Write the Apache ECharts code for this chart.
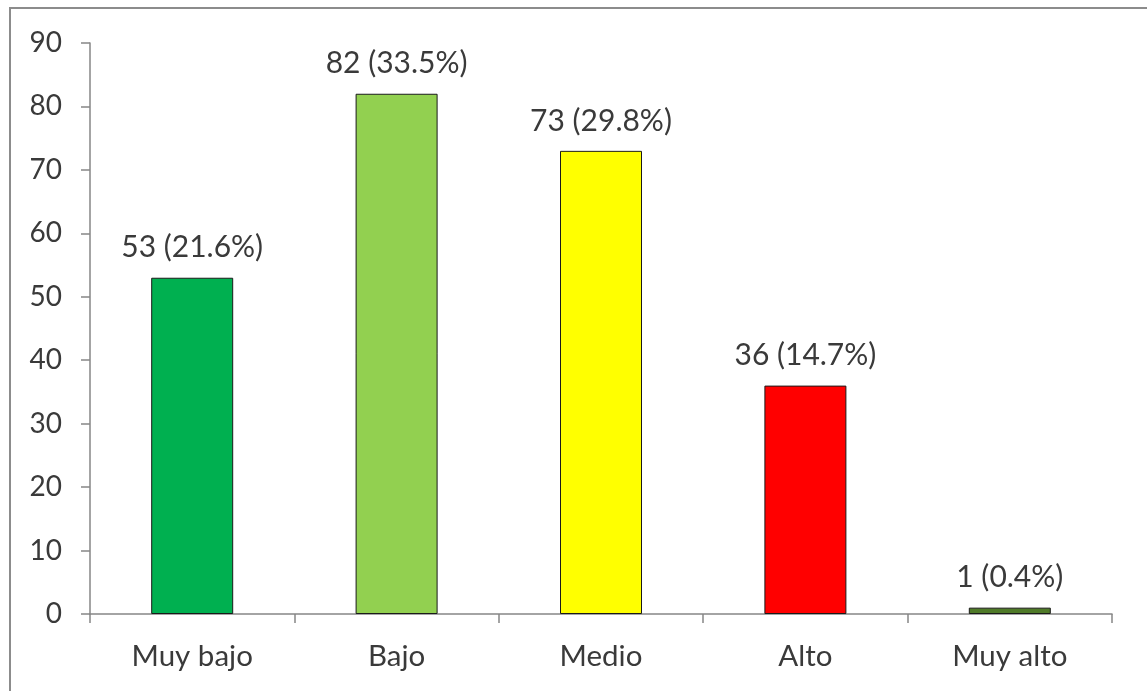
<!DOCTYPE html>
<html><head><meta charset="utf-8">
<script src="https://cdn.jsdelivr.net/npm/echarts@6/dist/echarts.min.js"></script>
<style>
html,body{margin:0;padding:0;background:#fff;}
#frame{position:absolute;left:9px;top:7px;width:1160px;height:700px;border-top:2px solid #8c8c8c;border-left:2px solid #8c8c8c;box-sizing:border-box;}
#c{position:absolute;left:0;top:0;width:1147px;height:691px;}
</style></head>
<body>
<div id="frame"></div>
<div id="c"></div>
<script>
const categories = ['Muy bajo','Bajo','Medio','Alto','Muy alto'];
const values = [53, 82, 73, 36, 1];
const percents = ['21.6','33.5','29.8','14.7','0.4'];
const colors = ['#00B050','#92D050','#FFFF00','#FF0000','#4F7A28'];
const yTicks = {min:0, max:90, interval:10};

const chart = echarts.init(document.getElementById('c'));
const font = 'Lato, "Open Sans", sans-serif';
chart.setOption({
  animation:false,
  grid:{left:90, right:35, top:43, bottom:77},
  xAxis:{
    type:'category', data:categories,
    axisLine:{lineStyle:{color:'#868686', width:1.5}},
    axisTick:{show:true, alignWithLabel:false, length:9, lineStyle:{color:'#868686', width:1.5}},
    axisLabel:{color:'#3a3a3a', fontSize:29.5, fontFamily:font, margin:27}
  },
  yAxis:{
    type:'value', min:yTicks.min, max:yTicks.max, interval:yTicks.interval,
    splitLine:{show:false},
    axisLine:{show:true, lineStyle:{color:'#868686', width:1.5}},
    axisTick:{show:true, length:9, lineStyle:{color:'#868686', width:1.5}},
    axisLabel:{color:'#3a3a3a', fontSize:28, fontFamily:font, margin:28}
  },
  series:[{
    type:'bar', barWidth:82,
    data: values.map((v,i)=>({value:v, itemStyle:{color:colors[i], borderColor:'#1a1a1a', borderWidth:1}})),
    label:{show:true, position:'top', distance:15, color:'#3a3a3a', fontSize:30, fontFamily:font,
      formatter:p=>p.value+' ('+percents[p.dataIndex]+'%)'}
  }]
});
</script>
</body></html>
